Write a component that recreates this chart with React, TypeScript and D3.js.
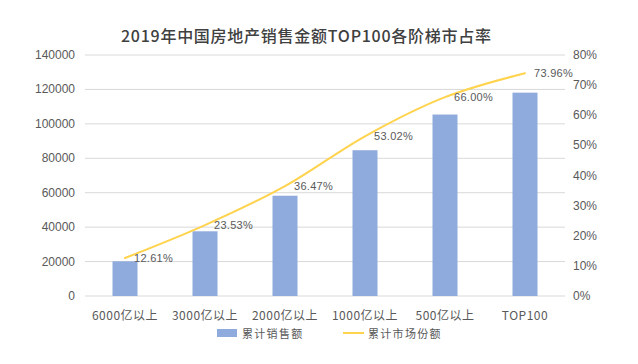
import React from "react";
import * as d3 from "d3";

const categories = ["6000亿以上", "3000亿以上", "2000亿以上", "1000亿以上", "500亿以上", "TOP100"];
const salesValues = [20141, 37583, 58252, 84686, 105418, 118132];
const shareValues = [12.61, 23.53, 36.47, 53.02, 66.0, 73.96];
const leftTicks = [0, 20000, 40000, 60000, 80000, 100000, 120000, 140000];
const rightTicks = [0, 10, 20, 30, 40, 50, 60, 70, 80];
const title = "2019年中国房地产销售金额TOP100各阶梯市占率";
const legendLabels = ["累计销售额", "累计市场份额"];

const W = 638;
const H = 364;
const plotLeft = 85;
const plotRight = 565;
const plotTop = 55;
const plotBottom = 296;

const BAR = "#8FAADC";
const LINE = "#FFD34D";
const TXT = "#595959";
const GRID = "#D9D9D9";
const FONT = "'Noto Sans CJK SC', 'Liberation Sans', sans-serif";
const NUMFONT = "'Liberation Sans', Arial, sans-serif";

export default function App() {
  const x = d3.scaleBand<string>().domain(categories).range([plotLeft, plotRight]).paddingInner(0).paddingOuter(0);
  const yL = d3.scaleLinear().domain([0, 140000]).range([plotBottom, plotTop]);
  const yR = d3.scaleLinear().domain([0, 80]).range([plotBottom, plotTop]);
  const barW = 25;
  const cx = (c: string) => (x(c) as number) + x.bandwidth() / 2;

  const line = d3
    .line<number>()
    .x((_, i) => cx(categories[i]))
    .y((d) => yR(d))
    .curve(d3.curveCatmullRom.alpha(0.5));

  return (
    <svg width={W} height={H} style={{ position: "absolute", left: 0, top: 0, background: "#fff" }}>
      <rect x={0} y={0} width={W} height={H} fill="#fff" />
      <text
        x={306}
        y={35}
        textAnchor="middle"
        dominantBaseline="central"
        fontFamily={FONT}
        fontSize={16}
        fontWeight={500}
        fill="#404040"
        textLength={370}
        lengthAdjust="spacing"
      >
        {title}
      </text>

      {leftTicks.map((t) => (
        <g key={"l" + t}>
          <line x1={plotLeft} x2={plotRight} y1={yL(t)} y2={yL(t)} stroke={GRID} strokeWidth={1} />
          <text x={75} y={yL(t)} textAnchor="end" dominantBaseline="central" fontFamily={NUMFONT} fontSize={12} fill={TXT}>
            {t}
          </text>
        </g>
      ))}
      {rightTicks.map((t) => (
        <text key={"r" + t} x={573} y={yR(t)} textAnchor="start" dominantBaseline="central" fontFamily={NUMFONT} fontSize={12} fill={TXT}>
          {t + "%"}
        </text>
      ))}

      {salesValues.map((v, i) => (
        <rect
          key={"b" + i}
          x={cx(categories[i]) - barW / 2}
          y={yL(v)}
          width={barW}
          height={yL(0) - yL(v)}
          fill={BAR}
        />
      ))}

      <path d={line(shareValues) || ""} fill="none" stroke={LINE} strokeWidth={2} strokeLinecap="round" />

      {shareValues.map((v, i) => (
        <text
          key={"s" + i}
          x={cx(categories[i]) + 9}
          y={yR(v)}
          dominantBaseline="central"
          fontFamily={NUMFONT}
          fontSize={11}
          fill={TXT}
          letterSpacing={0.3}
        >
          {v.toFixed(2) + "%"}
        </text>
      ))}

      {categories.map((c) => (
        <text
          key={"c" + c}
          x={cx(c)}
          y={314}
          textAnchor="middle"
          dominantBaseline="central"
          fontFamily={FONT}
          fontSize={12}
          fill={TXT}
          letterSpacing={0.5}
        >
          {c}
        </text>
      ))}

      <rect x={217} y={329} width={20} height={8} fill={BAR} />
      <text x={242} y={333} dominantBaseline="central" fontFamily={FONT} fontSize={11} fill={TXT} letterSpacing={1.3}>
        {legendLabels[0]}
      </text>
      <line x1={343} x2={364} y1={333} y2={333} stroke={LINE} strokeWidth={2} />
      <text x={368} y={333} dominantBaseline="central" fontFamily={FONT} fontSize={11} fill={TXT} letterSpacing={1.3}>
        {legendLabels[1]}
      </text>
    </svg>
  );
}
